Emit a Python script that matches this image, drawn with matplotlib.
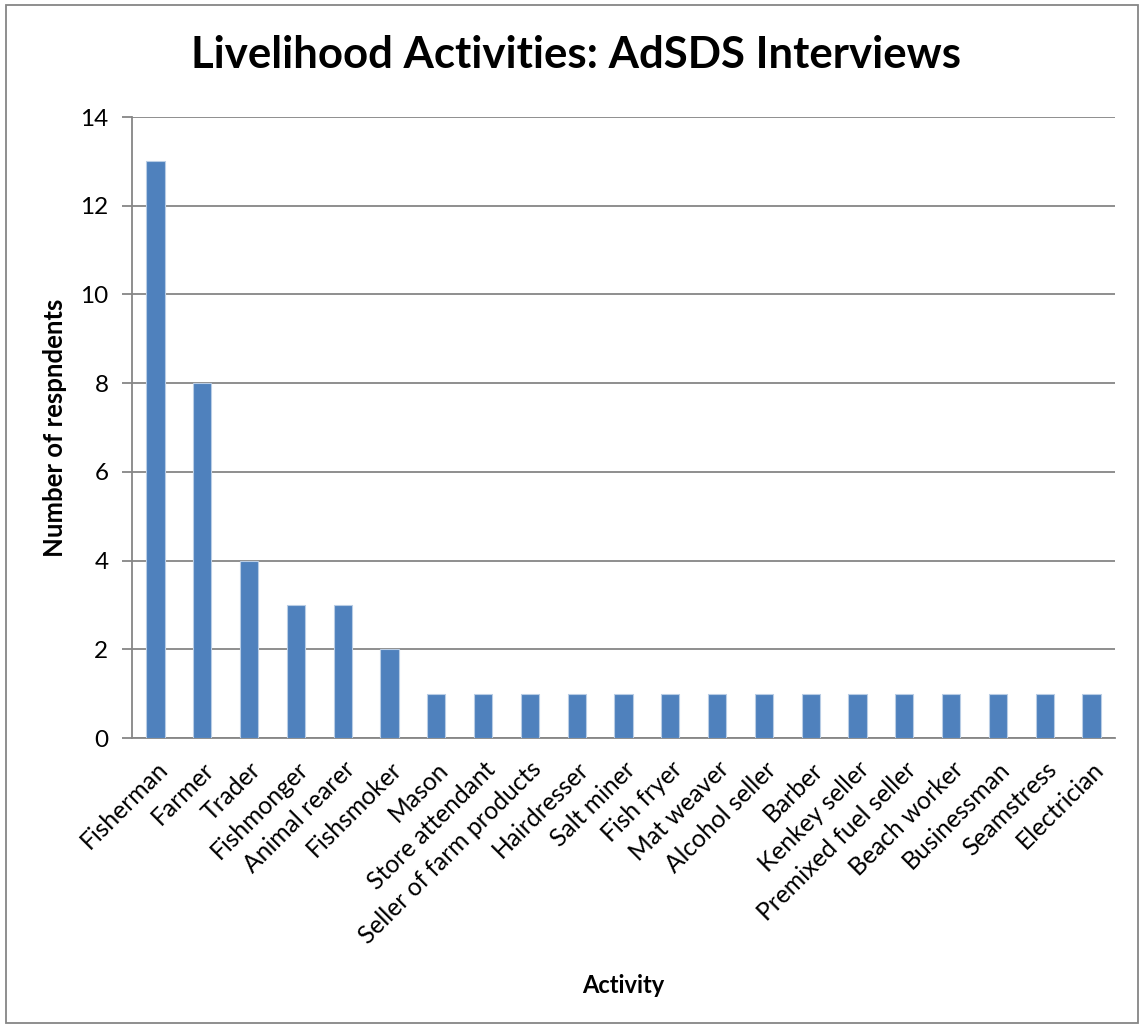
import matplotlib.pyplot as plt
from matplotlib.patches import Rectangle

plt.rcParams['font.family'] = ['Lato', 'DejaVu Sans']

activities = ["Fisherman", "Farmer", "Trader", "Fishmonger", "Animal rearer",
              "Fishsmoker", "Mason", "Store attendant", "Seller of farm products",
              "Hairdresser", "Salt miner", "Fish fryer", "Mat weaver",
              "Alcohol seller", "Barber", "Kenkey seller", "Premixed fuel seller",
              "Beach worker", "Businessman", "Seamstress", "Electrician"]
respondents = [13, 8, 4, 3, 3, 2, 1, 1, 1, 1, 1, 1, 1, 1, 1, 1, 1, 1, 1, 1, 1]

fig = plt.figure(figsize=(11.4, 10.27), dpi=100, facecolor="white")
ax = fig.add_axes([0.1158, 0.2814, 0.8622, 0.6046])

x = range(len(activities))
ax.bar(x, respondents, width=0.39, color="#4F81BD", edgecolor="#B9CDE5",
       linewidth=0.8, zorder=3)

ax.set_xlim(-0.5, len(activities) - 0.5)
ax.set_ylim(0, 14)
ax.set_yticks(range(0, 15, 2))
ax.yaxis.grid(True, color="#868686", linewidth=1.3, zorder=0)
ax.set_xticks(list(x))
ax.set_xticklabels(activities, rotation=45, ha="right", rotation_mode="anchor",
                   fontsize=17.7)
ax.tick_params(axis="x", length=0, pad=14)
ax.tick_params(axis="y", labelsize=17.5, length=7, width=1.3, color="#868686", pad=10)

for side in ["top", "right"]:
    ax.spines[side].set_visible(False)
for side in ["left", "bottom"]:
    ax.spines[side].set_color("#868686")
    ax.spines[side].set_linewidth(1.3)

ax.set_ylabel("Number of respndents", fontsize=18.5, fontweight="bold", va="center")
ax.yaxis.set_label_coords(-0.078, 0.5)
ax.set_xlabel("Activity", fontsize=17, fontweight="bold", va="center")
ax.xaxis.set_label_coords(0.5, -0.398)
fig.text(0.505, 0.9464, "Livelihood Activities: AdSDS Interviews", ha="center",
         va="center", fontsize=31.5, fontweight="bold")

# outer chart border
fig.patches.append(Rectangle((0.005, 0.004), 0.993, 0.991, transform=fig.transFigure,
                             fill=False, edgecolor="#868686", linewidth=1.3))

fig.savefig("out.png", dpi=100, facecolor="white")
